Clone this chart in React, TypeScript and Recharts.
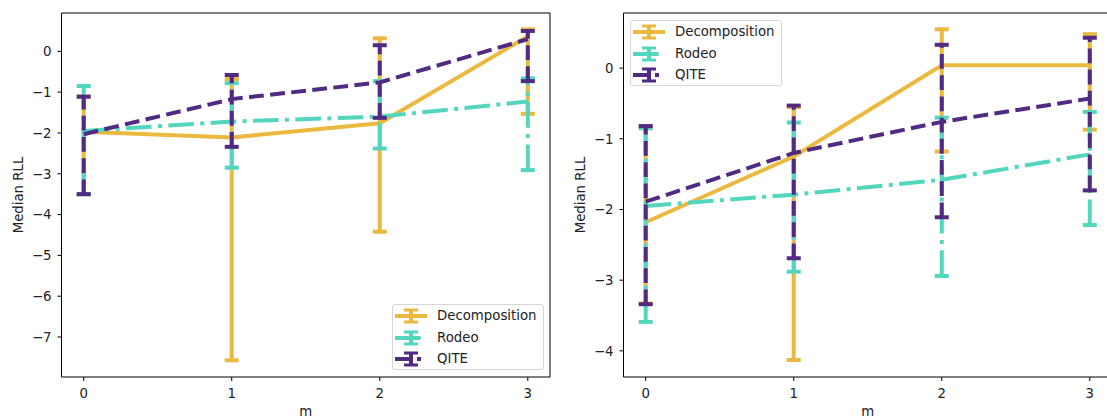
import { LineChart, Line, XAxis, YAxis, ErrorBar, ReferenceLine } from 'recharts';

const m = [0, 1, 2, 3];

// left panel
const decompLeft = [-1.97, -2.11, -1.76, 0.37];
const decompLeftLow = [-3.5, -7.57, -4.42, -1.53];
const decompLeftHigh = [-1.11, -0.68, 0.32, 0.54];
const rodeoLeft = [-1.95, -1.72, -1.6, -1.23];
const rodeoLeftLow = [-3.5, -2.85, -2.38, -2.91];
const rodeoLeftHigh = [-0.85, -0.78, -0.73, -0.66];
const qiteLeft = [-2.03, -1.17, -0.76, 0.3];
const qiteLeftLow = [-3.5, -2.34, -1.63, -0.73];
const qiteLeftHigh = [-1.11, -0.58, 0.15, 0.5];

// right panel
const decompRight = [-2.18, -1.25, 0.04, 0.04];
const decompRightLow = [-3.33, -4.13, -1.18, -0.87];
const decompRightHigh = [-0.85, -0.55, 0.55, 0.48];
const rodeoRight = [-1.95, -1.79, -1.58, -1.22];
const rodeoRightLow = [-3.59, -2.88, -2.94, -2.22];
const rodeoRightHigh = [-0.85, -0.77, -0.7, -0.62];
const qiteRight = [-1.89, -1.2, -0.76, -0.43];
const qiteRightLow = [-3.34, -2.69, -2.11, -1.73];
const qiteRightHigh = [-0.82, -0.53, 0.33, 0.43];

const xTicks = [0, 1, 2, 3];
const xDomain: [number, number] = [-0.15, 3.15];
const leftTicks = [-7, -6, -5, -4, -3, -2, -1, 0];
const rightTicks = [-4, -3, -2, -1, 0];

const GOLD = '#EBB93F';
const TEAL = '#52D7BE';
const PURPLE = '#512A82';
const FONT = '"DejaVu Sans", sans-serif';

const DASH = '14.8 6.4';
const DASHDOT = '25.6 6.4 4 6.4';

const build = (
  d: number[], dl: number[], dh: number[],
  r: number[], rl: number[], rh: number[],
  q: number[], ql: number[], qh: number[]
) =>
  m.map((x, i) => ({
    m: x,
    decomp: d[i],
    decompErr: [d[i] - dl[i], dh[i] - d[i]],
    rodeo: r[i],
    rodeoErr: [r[i] - rl[i], rh[i] - r[i]],
    qite: q[i],
    qiteErr: [q[i] - ql[i], qh[i] - q[i]],
  }));

const leftData = build(decompLeft, decompLeftLow, decompLeftHigh, rodeoLeft, rodeoLeftLow, rodeoLeftHigh, qiteLeft, qiteLeftLow, qiteLeftHigh);
const rightData = build(decompRight, decompRightLow, decompRightHigh, rodeoRight, rodeoRightLow, rodeoRightHigh, qiteRight, qiteRightLow, qiteRightHigh);

const fmt = (v: number) => (v < 0 ? '\u2212' + Math.abs(v) : String(v));

const tickStyle = { fill: '#222', fontSize: 13.3, fontFamily: FONT };

const legendItems = [
  { name: 'Decomposition', color: GOLD, dash: undefined as string | undefined },
  { name: 'Rodeo', color: TEAL, dash: DASHDOT },
  { name: 'QITE', color: PURPLE, dash: '16 6 4 6' },
];

function LegendBox({ left, top }: { left: number; top: number }) {
  return (
    <div
      style={{
        position: 'absolute', left, top, width: 150, height: 64,
        background: 'rgba(255,255,255,0.8)', border: '1px solid #d6d6d6', borderRadius: 3,
        fontFamily: FONT, fontSize: 13.3, color: '#222',
      }}
    >
      {legendItems.map((it, i) => (
        <div key={it.name} style={{ position: 'absolute', left: 2, top: 3 + i * 21.5, height: 16, display: 'flex', alignItems: 'center' }}>
          <svg width={32} height={16}>
            <line x1={0} y1={8} x2={32} y2={8} stroke={it.color} strokeWidth={4} strokeDasharray={it.dash} />
            <line x1={16} y1={2} x2={16} y2={14} stroke={it.color} strokeWidth={4} />
            <line x1={9} y1={2} x2={23} y2={2} stroke={it.color} strokeWidth={3} />
            <line x1={9} y1={14} x2={23} y2={14} stroke={it.color} strokeWidth={3} />
          </svg>
          <span style={{ marginLeft: 10, lineHeight: '16px' }}>{it.name}</span>
        </div>
      ))}
    </div>
  );
}

function Panel({ data, domain, ticks }: { data: any[]; domain: [number, number]; ticks: number[] }) {
  return (
    <LineChart width={560} height={420} data={data} margin={{ top: 13, right: 10, bottom: 0, left: 0 }}>
      <XAxis
        dataKey="m" type="number" domain={xDomain} ticks={xTicks} allowDataOverflow
        height={43} tickSize={4} tickMargin={8} tick={tickStyle}
        axisLine={{ stroke: '#000' }} tickLine={{ stroke: '#000' }}
        label={{
          content: (p: any) => (
            <text x={p.viewBox.x + p.viewBox.width / 2} y={p.viewBox.y + 38.5} textAnchor="middle" fill="#222" fontSize={13.3} fontFamily={FONT}>m</text>
          ),
        }}
      />
      <YAxis
        type="number" domain={domain} ticks={ticks} allowDataOverflow
        width={61.5} tickSize={4} tickMargin={6} tick={tickStyle} tickFormatter={fmt}
        axisLine={{ stroke: '#000' }} tickLine={{ stroke: '#000' }}
        label={{
          content: (p: any) => {
            const cx = p.viewBox.x + 18;
            const cy = p.viewBox.y + p.viewBox.height / 2;
            return (
              <text x={cx} y={cy} transform={`rotate(-90 ${cx} ${cy})`} textAnchor="middle" dominantBaseline="central" fill="#222" fontSize={13.3} fontFamily={FONT}>Median RLL</text>
            );
          },
        }}
      />
      {/* top and right spines */}
      <ReferenceLine y={domain[1]} stroke="#000" strokeWidth={1} ifOverflow="visible" />
      <ReferenceLine x={xDomain[1]} stroke="#000" strokeWidth={1} ifOverflow="visible" />
      <Line dataKey="decomp" stroke={GOLD} strokeWidth={4} dot={false} activeDot={false} isAnimationActive={false}>
        <ErrorBar dataKey="decompErr" width={7} stroke={GOLD} strokeWidth={4} isAnimationActive={false} />
      </Line>
      <Line dataKey="rodeo" stroke={TEAL} strokeWidth={4} strokeDasharray={DASHDOT} dot={false} activeDot={false} isAnimationActive={false}>
        <ErrorBar dataKey="rodeoErr" width={7} stroke={TEAL} strokeWidth={4} strokeDasharray={DASHDOT} isAnimationActive={false} />
      </Line>
      <Line dataKey="qite" stroke={PURPLE} strokeWidth={4} strokeDasharray={DASH} dot={false} activeDot={false} isAnimationActive={false}>
        <ErrorBar dataKey="qiteErr" width={7} stroke={PURPLE} strokeWidth={4} strokeDasharray={DASH} isAnimationActive={false} />
      </Line>
    </LineChart>
  );
}

export default function App() {
  return (
    <div style={{ position: 'absolute', left: 0, top: 0, width: 1107, height: 420, overflow: 'hidden', background: '#fff' }}>
      <div style={{ position: 'absolute', left: 0, top: 0 }}>
        <Panel data={leftData} domain={[-7.98, 0.94]} ticks={leftTicks} />
        <LegendBox left={392} top={304} />
      </div>
      <div style={{ position: 'absolute', left: 562, top: 0 }}>
        <Panel data={rightData} domain={[-4.37, 0.78]} ticks={rightTicks} />
        <LegendBox left={68} top={20} />
      </div>
    </div>
  );
}
